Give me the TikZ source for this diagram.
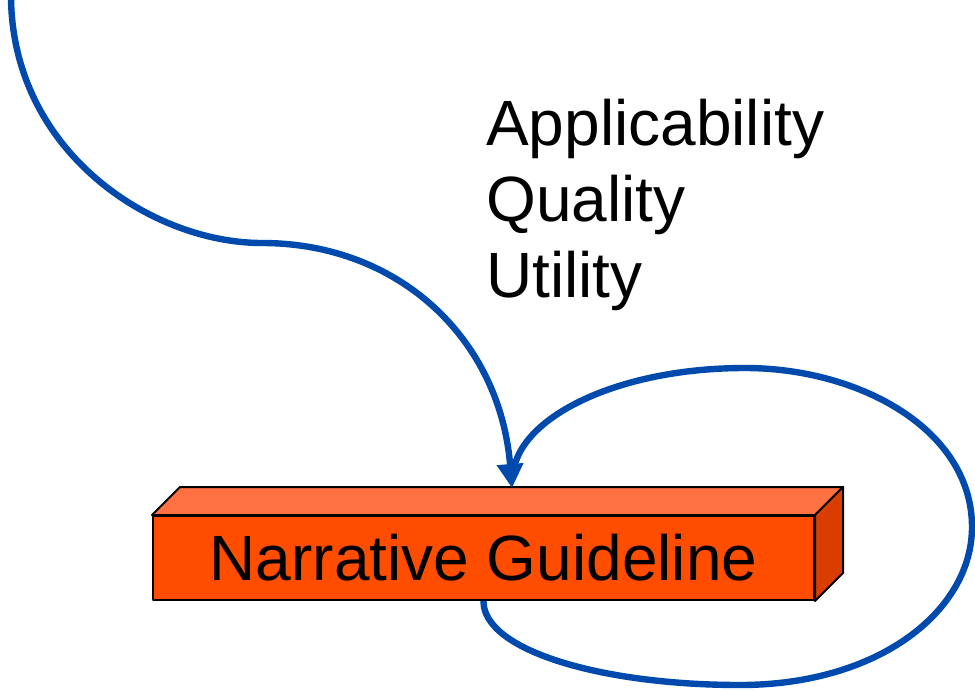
\documentclass[tikz,border=0pt]{standalone}
\usepackage{fontspec}
\setmainfont{Liberation Sans}
\usetikzlibrary{arrows.meta}
\definecolor{frontc}{HTML}{FF4D00}
\definecolor{topc}{HTML}{FF7043}
\definecolor{sidec}{HTML}{D93D00}
\definecolor{flowblue}{HTML}{004AAD}
\begin{document}
\begin{tikzpicture}[x=0.75pt,y=-0.75pt,
  edgeline/.style={draw=black,line width=1.5pt,line join=round},
  frontface/.style={edgeline,fill=frontc,minimum width=495.75pt,minimum height=63pt,inner sep=0pt,font=\fontsize{48pt}{56pt}\selectfont},
  crittext/.style={anchor=north west,inner sep=0pt,align=left,font=\fontsize{48pt}{57pt}\selectfont},
  flow/.style={draw=flowblue,line width=4.8pt}]
\useasboundingbox (0,0) rectangle (975,690);
% box
\node[frontface] (ng) at (483.5,558) {Narrative Guideline};
\draw[edgeline,fill=topc] (ng.north west) -- ++(28,-28) -- ([shift={(28,-28)}]ng.north east) -- (ng.north east) -- cycle;
\draw[edgeline,fill=sidec] (ng.north east) -- ++(28,-28) -- ([shift={(28,-28)}]ng.south east) -- (ng.south east) -- cycle;
% criteria
\node[crittext] (crit) at (486,99) {Applicability\\Quality\\Utility};
% connectors
\coordinate (src) at (11,-5);
\coordinate (tip) at (512,488);
\coordinate (join) at (514,468);
\draw[flow] (ng.south) .. controls (483,650) and (600,685) .. (740,685)
  .. controls (880,685) and (972,610) .. (972,527)
  .. controls (972,430) and (860,368) .. (745,368)
  .. controls (620,368) and (525,415) .. (join);
\draw[flow,-{Triangle[length=18pt,width=19pt]}] (src) .. controls (11,150) and (150,243) .. (262,243)
  .. controls (400,243) and (500,340) .. (tip);
\end{tikzpicture}
\end{document}
